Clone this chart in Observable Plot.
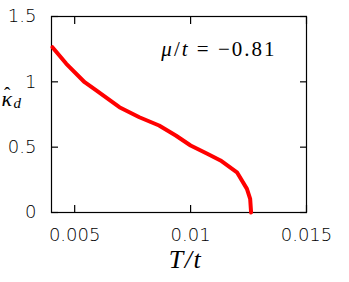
<!DOCTYPE html>
<html><head><meta charset="utf-8">
<script src="https://cdn.jsdelivr.net/npm/d3@7"></script>
<script src="https://cdn.jsdelivr.net/npm/@observablehq/plot@0.6"></script>
<style>body{margin:0;background:#fff}</style>
</head><body><div id="chart"></div>
<script>
const T = [0.00404,0.00464,0.00543,0.00593,0.00693,0.00779,0.00864,0.00936,0.0100,0.01072,0.01129,0.01200,0.01243,0.01257,0.01261];
const kappa = [1.265,1.138,0.997,0.934,0.806,0.729,0.666,0.589,0.513,0.449,0.398,0.308,0.181,0.105,0.0];
const xTicks = [0.005,0.01,0.015];
const xTickLabels = ["0.005","0.01","0.015"];
const yTicks = [0,0.5,1,1.5];
const yTickLabels = ["0","0.5","1","1.5"];
const annotation = "μ/t = −0.81";
const yLabel = "κd";
const xLabel = "T/t";
const data = T.map((t,i)=>({T:t,k:kappa[i]}));

const sans = "'DejaVu Sans', sans-serif";
const serif = "'Liberation Serif', 'Times New Roman', serif";

const svg = Plot.plot({
  width: 349, height: 282,
  marginLeft: 51, marginRight: 43, marginTop: 16, marginBottom: 70,
  style: {fontFamily: sans, fontSize: "18px", color: "#000", background: "#fff"},
  x: {domain: [0.004, 0.015], label: null},
  y: {domain: [0, 1.5], label: null},
  marks: [
    Plot.axisX({anchor: "bottom", ticks: xTicks, tickSize: -7, tickPadding: 23, tickFormat: (d,i)=>xTickLabels[i], label: null, strokeWidth: 1.2, fontWeight: 300}),
    Plot.axisX({anchor: "top", ticks: xTicks, tickSize: -7, tickFormat: ()=>"", label: null, strokeWidth: 1.2}),
    Plot.axisY({anchor: "left", ticks: yTicks, tickSize: -7, tickPadding: 22, tickFormat: (d,i)=>yTickLabels[i], label: null, strokeWidth: 1.2, fontWeight: 300}),
    Plot.axisY({anchor: "right", ticks: yTicks, tickSize: -7, tickFormat: ()=>"", label: null, strokeWidth: 1.2}),
    Plot.frame({stroke: "#000", strokeWidth: 1.2}),
    Plot.line(data, {x: "T", y: "k", stroke: "#ff0000", strokeWidth: 4, curve: "linear", strokeLinejoin: "round"}),
    Plot.text([annotation], {frameAnchor: "top-right", lineAnchor: "bottom", dx: -30, dy: 39, textAnchor: "end", fontFamily: serif, fontSize: 21, fill: "#000"}),
    Plot.text([xLabel], {frameAnchor: "bottom", lineAnchor: "bottom", dx: 6.5, dy: 55, fontFamily: serif, fontSize: 26, fontStyle: "italic", fill: "#000"}),
    Plot.text([yLabel], {frameAnchor: "left", lineAnchor: "bottom", dx: -50, dy: -9, textAnchor: "start", fontFamily: serif, fontSize: 22, fontStyle: "italic", fill: "#000"})
  ]
});
const sel = d3.select(svg).selectAll("text");
sel.filter(function(){return this.textContent === annotation;}).each(function(){
  const t = d3.select(this); t.text("").attr("letter-spacing", "2px");
  t.append("tspan").attr("font-style","italic").text("μ");
  t.append("tspan").text("/");
  t.append("tspan").attr("font-style","italic").text("t");
  t.append("tspan").text(" = −0.81");
});
sel.filter(function(){return this.textContent === xLabel;}).attr("letter-spacing", "1.5px");
sel.filter(function(){return this.textContent === yLabel;}).each(function(){
  const t = d3.select(this); t.text("");
  t.append("tspan").attr("letter-spacing","1px").text("κ");
  t.append("tspan").attr("font-style","normal").attr("font-size","19").attr("dx","-9").attr("dy","-6").text("ˆ");
  t.append("tspan").attr("font-size","15").attr("dx","3").attr("dy","8").text("d");
});
document.getElementById("chart").appendChild(svg);
</script>
</body></html>
